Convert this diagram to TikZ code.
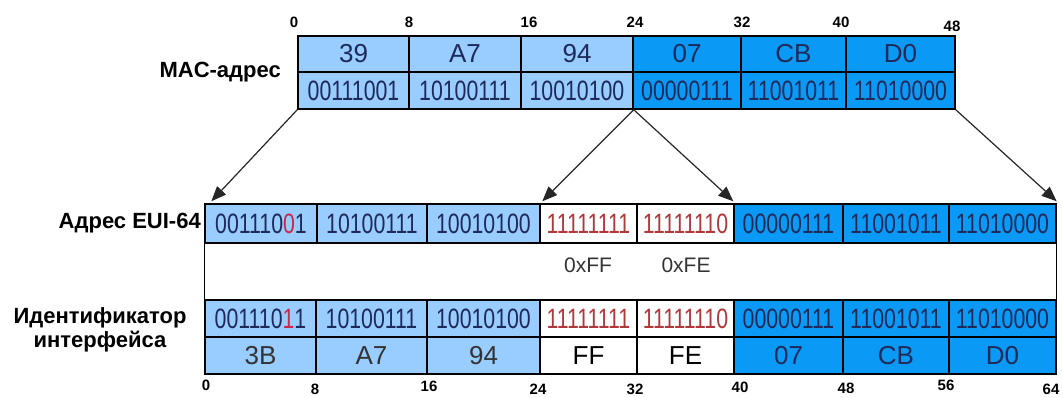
\documentclass[tikz,border=0pt]{standalone}
\usepackage{fontspec}
\setmainfont{Liberation Sans}
\newfontfamily\binfont[FakeStretch=0.76]{Liberation Sans}
\usetikzlibrary{arrows.meta}
\definecolor{lightb}{HTML}{99CCFF}
\definecolor{darkb}{HTML}{0A99F5}
\definecolor{navy}{HTML}{1E2A5A}
\definecolor{redd}{HTML}{B0383A}
\definecolor{pinkred}{HTML}{C8284E}
\definecolor{graytxt}{HTML}{333333}
\newcommand\cellbox[7]{%
  \node[cell,#6,minimum width={(#3-#2)*1pt},minimum height={(#5-#4)*1pt}] (#1) at ({(#2+#3)/2},{(#4+#5)/2}) {#7};}
\begin{document}
\begin{tikzpicture}[x=1pt,y=-1pt,
  cell/.style={draw=black,line width=1.4pt,inner sep=0pt,anchor=center},
  lt/.style={fill=lightb},
  dk/.style={fill=darkb},
  wh/.style={fill=white},
  hexf/.style={font=\fontsize{26}{30}\selectfont,text=navy},
  hexb/.style={font=\fontsize{26}{30}\selectfont,text=black},
  binf/.style={font=\binfont\fontsize{28}{32}\selectfont,text=navy},
  binr/.style={font=\binfont\fontsize{28}{32}\selectfont,text=redd},
  rowlab/.style={font=\bfseries\fontsize{22}{24}\selectfont,text=black,inner sep=0pt},
  bitnum/.style={font=\bfseries\fontsize{15}{17}\selectfont,text=black,inner sep=0pt},
  hexnote/.style={font=\fontsize{21}{24}\selectfont,text=graytxt,inner sep=0pt},
  arr/.style={draw=black!85,line width=1.2pt,-{Triangle[length=15pt,width=12pt]}}]
\useasboundingbox (0,0) rectangle (1063,398);
\fill[white] (0,0) rectangle (1063,398);
% MAC address
\cellbox{mh1}{298}{409}{36}{72}{lt,hexf}{39}
\cellbox{mh2}{409}{521}{36}{72}{lt,hexf}{A7}
\cellbox{mh3}{521}{633}{36}{72}{lt,hexf}{94}
\cellbox{mh4}{633}{741}{36}{72}{dk,hexf}{07}
\cellbox{mh5}{741}{846}{36}{72}{dk,hexf}{CB}
\cellbox{mh6}{846}{955}{36}{72}{dk,hexf}{D0}
\cellbox{mb1}{298}{409}{72}{109}{lt,binf}{00111001}
\cellbox{mb2}{409}{521}{72}{109}{lt,binf}{10100111}
\cellbox{mb3}{521}{633}{72}{109}{lt,binf}{10010100}
\cellbox{mb4}{633}{741}{72}{109}{dk,binf}{00000111}
\cellbox{mb5}{741}{846}{72}{109}{dk,binf}{11001011}
\cellbox{mb6}{846}{955}{72}{109}{dk,binf}{11010000}
\node[rowlab,anchor=east] (lmac) at (281,72) {MAC-адрес};
\node[bitnum] (t0) at (294,22) {0};
\node[bitnum] (t8) at (409,22) {8};
\node[bitnum] (t16) at (529,22) {16};
\node[bitnum] (t24) at (635,22) {24};
\node[bitnum] (t32) at (742,22) {32};
\node[bitnum] (t40) at (841,22) {40};
\node[bitnum] (t48) at (952,26) {48};
% EUI-64
\cellbox{e1}{205}{317}{204}{243}{lt,binf}{001110\textcolor{pinkred}{0}1}
\cellbox{e2}{317}{427}{204}{243}{lt,binf}{10100111}
\cellbox{e3}{427}{540}{204}{243}{lt,binf}{10010100}
\cellbox{e4}{540}{637}{204}{243}{wh,binr}{11111111}
\cellbox{e5}{637}{734}{204}{243}{wh,binr}{11111110}
\cellbox{e6}{734}{843}{204}{243}{dk,binf}{00000111}
\cellbox{e7}{843}{949}{204}{243}{dk,binf}{11001011}
\cellbox{e8}{949}{1056}{204}{243}{dk,binf}{11010000}
\node[rowlab,anchor=east] (leui) at (201,223) {Адрес EUI-64};
\node[hexnote] (nff) at (588,265) {0xFF};
\node[hexnote] (nfe) at (686,265) {0xFE};
% Interface ID
\cellbox{i1}{205}{316}{300}{337}{lt,binf}{001110\textcolor{pinkred}{1}1}
\cellbox{i2}{316}{427}{300}{337}{lt,binf}{10100111}
\cellbox{i3}{427}{540}{300}{337}{lt,binf}{10010100}
\cellbox{i4}{540}{637}{300}{337}{wh,binr}{11111111}
\cellbox{i5}{637}{734}{300}{337}{wh,binr}{11111110}
\cellbox{i6}{734}{843}{300}{337}{dk,binf}{00000111}
\cellbox{i7}{843}{949}{300}{337}{dk,binf}{11001011}
\cellbox{i8}{949}{1056}{300}{337}{dk,binf}{11010000}
\cellbox{j1}{205}{316}{337}{374}{lt,hexb,text=graytxt}{3B}
\cellbox{j2}{316}{427}{337}{374}{lt,hexb,text=graytxt}{A7}
\cellbox{j3}{427}{540}{337}{374}{lt,hexb,text=graytxt}{94}
\cellbox{j4}{540}{637}{337}{374}{wh,hexb}{FF}
\cellbox{j5}{637}{734}{337}{374}{wh,hexb}{FE}
\cellbox{j6}{734}{843}{337}{374}{dk,hexf}{07}
\cellbox{j7}{843}{949}{337}{374}{dk,hexf}{CB}
\cellbox{j8}{949}{1056}{337}{374}{dk,hexf}{D0}
\node[rowlab,align=center] (lint) at (100,330) {Идентификатор\\интерфейса};
\node[bitnum] (b0) at (206,385) {0};
\node[bitnum] (b8) at (315,389) {8};
\node[bitnum] (b16) at (429,386) {16};
\node[bitnum] (b24) at (538,389) {24};
\node[bitnum] (b32) at (635,389) {32};
\node[bitnum] (b40) at (740,387) {40};
\node[bitnum] (b48) at (846,388) {48};
\node[bitnum] (b56) at (946,385) {56};
\node[bitnum] (b64) at (1051,389) {64};
% side frame between rows
\draw[line width=1.4pt] (e1.south west) -- (i1.north west);
\draw[line width=1.4pt] (e8.south east) -- (i8.north east);
% arrows
\draw[arr] (mb1.south west) -- ([xshift=7pt,yshift=2pt]e1.north west);
\draw[arr] (mb3.south east) -- ([xshift=3pt,yshift=2pt]e4.north west);
\draw[arr] (mb3.south east) -- ([yshift=2pt]e6.north west);
\draw[arr] (mb6.south east) -- ([yshift=2pt]e8.north east);
\end{tikzpicture}
\end{document}
